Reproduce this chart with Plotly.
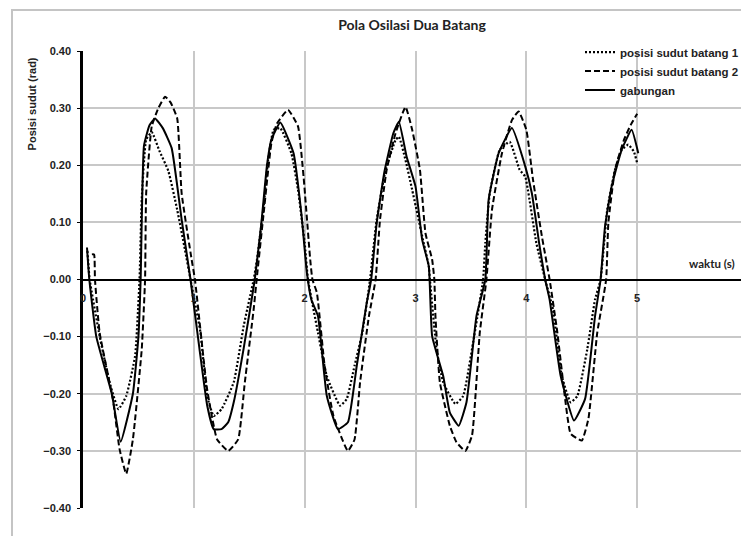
import plotly.graph_objects as go

# ---- data ----
x_batang1 = [0.04, 0.06, 0.15, 0.24, 0.32, 0.39, 0.47, 0.51, 0.53, 0.57, 0.62, 0.69, 0.77, 0.85, 0.92, 0.97,
             1.06, 1.12, 1.18, 1.25, 1.36, 1.45, 1.54, 1.57, 1.63, 1.67, 1.72, 1.78, 1.88, 1.94, 2.00, 2.03,
             2.12, 2.20, 2.32, 2.38, 2.45, 2.52, 2.59, 2.65, 2.73, 2.82, 2.85, 2.91, 2.97, 3.06, 3.12, 3.13,
             3.19, 3.25, 3.36, 3.43, 3.52, 3.61, 3.63, 3.67, 3.76, 3.85, 3.94, 3.99, 4.09, 4.17,
             4.24, 4.32, 4.40, 4.46, 4.55, 4.62, 4.67, 4.73, 4.80, 4.86, 4.92, 4.97, 5.00]
y_batang1 = [0.05, 0.0, -0.099, -0.18, -0.227, -0.204, -0.134, 0.0, 0.14, 0.245, 0.258, 0.225, 0.19, 0.122, 0.052, 0.0,
             -0.093, -0.204, -0.239, -0.227, -0.18, -0.081, 0.0, 0.035, 0.128, 0.209, 0.262, 0.265, 0.221, 0.157, 0.064, 0.0,
             -0.093, -0.169, -0.221, -0.209, -0.151, -0.093, 0.0, 0.105, 0.192, 0.244, 0.25, 0.209, 0.157, 0.076, 0.023, 0.0,
             -0.122, -0.18, -0.218, -0.204, -0.11, 0.0, 0.064, 0.151, 0.227, 0.241, 0.192, 0.18, 0.064, 0.0,
             -0.052, -0.169, -0.215, -0.204, -0.122, -0.035, 0.0, 0.122, 0.192, 0.227, 0.236, 0.224, 0.204]

x_batang2 = [0.08, 0.10, 0.108, 0.15, 0.27, 0.33, 0.39, 0.45, 0.53, 0.56, 0.57, 0.62, 0.68, 0.74, 0.79, 0.85, 0.89, 0.98, 1.01,
             1.12, 1.21, 1.31, 1.40, 1.46, 1.54, 1.57, 1.63, 1.70, 1.75, 1.85, 1.94, 1.99, 2.05, 2.07,
             2.11, 2.18, 2.26, 2.39, 2.45, 2.50, 2.58, 2.64, 2.68, 2.74, 2.82, 2.91, 2.97, 3.04, 3.09, 3.15, 3.17,
             3.18, 3.22, 3.31, 3.37, 3.45, 3.51, 3.58, 3.64, 3.69, 3.78, 3.87, 3.93, 4.00, 4.06, 4.14, 4.21,
             4.28, 4.35, 4.40, 4.50, 4.56, 4.64, 4.72, 4.74, 4.80, 4.88, 4.94, 5.00]
y_batang2 = [0.044, 0.044, 0.0, -0.093, -0.21, -0.297, -0.34, -0.28, -0.122, 0.0, 0.151, 0.268, 0.30, 0.32, 0.31, 0.282, 0.151, 0.035, 0.0,
             -0.192, -0.28, -0.30, -0.28, -0.18, -0.052, 0.006, 0.116, 0.239, 0.273, 0.297, 0.268, 0.18, 0.035, 0.0,
             -0.023, -0.151, -0.239, -0.30, -0.28, -0.18, -0.064, 0.0, 0.105, 0.192, 0.256, 0.302, 0.262, 0.192, 0.081, 0.035, 0.0,
             -0.064, -0.18, -0.256, -0.285, -0.30, -0.273, -0.093, 0.0, 0.122, 0.221, 0.279, 0.294, 0.262, 0.175, 0.076, 0.0,
             -0.093, -0.209, -0.27, -0.282, -0.244, -0.093, 0.0, 0.099, 0.192, 0.244, 0.27, 0.29]

x_gabungan = [0.036, 0.057, 0.12, 0.26, 0.34, 0.45, 0.50, 0.52, 0.55, 0.60, 0.65, 0.72, 0.80, 0.89, 0.97,
              1.05, 1.12, 1.18, 1.25, 1.31, 1.36, 1.45, 1.55, 1.61, 1.66, 1.70, 1.78, 1.90, 1.97, 2.02,
              2.06, 2.12, 2.20, 2.30, 2.39, 2.47, 2.56, 2.60, 2.65, 2.72, 2.80, 2.85, 2.92, 3.00, 3.06, 3.12,
              3.15, 3.25, 3.31, 3.39, 3.46, 3.55, 3.63, 3.66, 3.75, 3.87, 3.99, 4.05, 4.12, 4.17,
              4.21, 4.31, 4.43, 4.53, 4.62, 4.67, 4.71, 4.77, 4.86, 4.95, 5.01]
y_gabungan = [0.056, 0.0, -0.10, -0.20, -0.284, -0.20, -0.10, 0.0, 0.234, 0.27, 0.282, 0.265, 0.23, 0.105, 0.0,
              -0.12, -0.22, -0.262, -0.262, -0.25, -0.215, -0.12, 0.0, 0.10, 0.20, 0.245, 0.275, 0.221, 0.116, 0.012,
              -0.035, -0.064, -0.204, -0.262, -0.25, -0.151, -0.041, 0.0, 0.099, 0.189, 0.256, 0.276, 0.215, 0.163, 0.07, 0.023,
              -0.099, -0.169, -0.233, -0.256, -0.215, -0.064, 0.0, 0.14, 0.221, 0.265, 0.198, 0.151, 0.058, 0.0,
              -0.035, -0.169, -0.247, -0.209, -0.064, 0.0, 0.093, 0.163, 0.227, 0.262, 0.221]

series_names = ["posisi sudut batang 1", "posisi sudut batang 2", "gabungan"]
x_ticks = [0, 1, 2, 3, 4, 5, 6]
y_ticks = [-0.4, -0.3, -0.2, -0.1, 0.0, 0.1, 0.2, 0.3, 0.4]

title_text = "Pola Osilasi Dua Batang"
y_title = "Posisi sudut (rad)"
x_title = "waktu (s)"

# ---- figure ----
# the page body has an 8px margin; work in window pixels and convert
OFF = 8
W, H = 749, 536
P_LEFT, P_RIGHT, P_TOP, P_BOTTOM = 83, 748, 50.5, 508.5   # plot area in window px
ML = P_LEFT - OFF
MT = P_TOP - OFF
MR = W - (P_RIGHT - OFF)
MB = H - (P_BOTTOM - OFF)
PW, PH = W - ML - MR, H - MT - MB

def px2paper_x(px):
    return (px - P_LEFT) / PW

def py2paper_y(py):
    return (P_BOTTOM - py) / PH

fig = go.Figure()
fig.add_trace(go.Scatter(x=x_batang1, y=y_batang1, mode="lines", name=series_names[0],
                         line=dict(color="black", width=2.2, dash="2px,2px", shape="spline", smoothing=0.4)))
fig.add_trace(go.Scatter(x=x_batang2, y=y_batang2, mode="lines", name=series_names[1],
                         line=dict(color="black", width=2, dash="6px,3px", shape="spline", smoothing=0.4)))
fig.add_trace(go.Scatter(x=x_gabungan, y=y_gabungan, mode="lines", name=series_names[2],
                         line=dict(color="black", width=2, shape="spline", smoothing=0.4)))

lab_font = dict(family="Liberation Sans, Arial", size=11, color="#222222", weight="bold")

fig.update_layout(
    width=W, height=H,
    margin=dict(l=ML, r=MR, t=MT, b=MB, autoexpand=False),
    paper_bgcolor="white", plot_bgcolor="white",
    title=dict(text=title_text, x=px2paper_x(412), xref="paper", xanchor="center",
               y=1 - (25 - OFF) / H, yref="container", yanchor="middle",
               font=dict(family="Lato, Open Sans", size=14, color="#222222", weight="bold")),
    showlegend=True,
    legend=dict(x=px2paper_x(580), xanchor="left", y=py2paper_y(37), yanchor="top",
                bgcolor="rgba(0,0,0,0)", borderwidth=0, itemwidth=30, tracegroupgap=0,
                font=dict(family="Liberation Sans, Arial", size=11.5, color="#222222", weight="bold")),
    xaxis=dict(range=[0, 6], tickvals=x_ticks, ticktext=[str(v) for v in x_ticks],
               showgrid=True, gridcolor="#c8c8c8", gridwidth=1.5, automargin=False,
               showline=True, linecolor="black", linewidth=2,
               anchor="free", position=0.5, zeroline=False,
               ticks="", ticklabelstandoff=8,
               tickfont=lab_font),
    yaxis=dict(range=[-0.4, 0.4], tickvals=y_ticks, tickformat=".2f", automargin=False,
               showgrid=True, gridcolor="#c8c8c8", gridwidth=1.5,
               showline=True, linecolor="black", linewidth=2.5,
               zeroline=False, ticks="outside", ticklen=3, tickcolor="black", tickwidth=1,
               ticklabelstandoff=4,
               tickfont=lab_font),
    shapes=[dict(type="rect", xref="paper", yref="paper",
                 x0=px2paper_x(12), x1=px2paper_x(770), y0=py2paper_y(570), y1=py2paper_y(9.5),
                 line=dict(color="#c4c4c4", width=2), fillcolor="rgba(0,0,0,0)", layer="below")],
    annotations=[
        dict(text=y_title, xref="paper", yref="paper", x=px2paper_x(32), y=py2paper_y(104),
             xanchor="center", yanchor="middle", textangle=-90, showarrow=False,
             font=dict(family="Liberation Sans, Arial", size=11, color="#222222", weight="bold")),
        dict(text=x_title, xref="paper", yref="paper", x=px2paper_x(712), y=py2paper_y(263),
             xanchor="center", yanchor="middle", showarrow=False,
             font=dict(family="Lato, Open Sans", size=11.5, color="#222222", weight="bold")),
    ],
)

fig.write_html("out.html")
